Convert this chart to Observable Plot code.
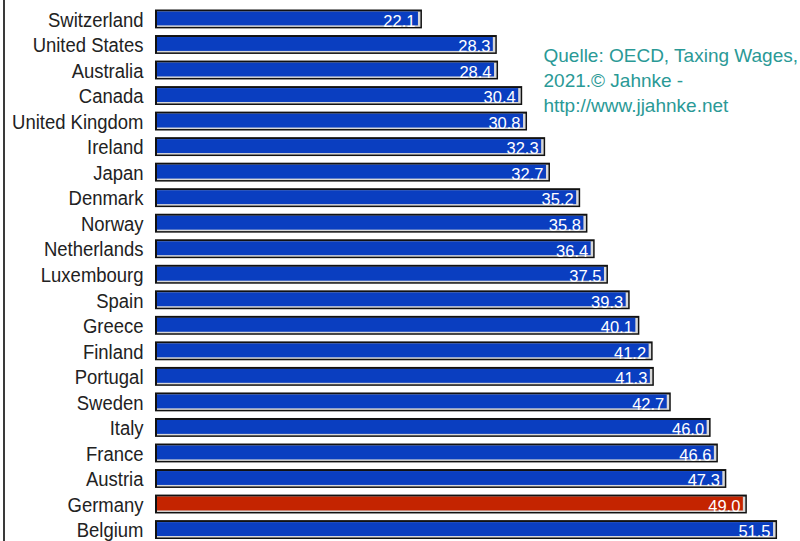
<!DOCTYPE html>
<html>
<head>
<meta charset="utf-8">
<script src="https://cdn.jsdelivr.net/npm/d3@7"></script>
<script src="https://cdn.jsdelivr.net/npm/@observablehq/plot@0.6"></script>
<style>
  html, body { margin: 0; padding: 0; background: #fff; }
  #wrap { position: relative; width: 800px; height: 541px; overflow: hidden; }
  #edge { position: absolute; left: 3px; top: 0; width: 2px; height: 541px; background: #3a3a3a; }
</style>
</head>
<body>
<div id="wrap"><div id="edge"></div></div>
<script>
const countries = ["Switzerland","United States","Australia","Canada","United Kingdom","Ireland","Japan","Denmark","Norway","Netherlands","Luxembourg","Spain","Greece","Finland","Portugal","Sweden","Italy","France","Austria","Germany","Belgium"];
const values = [22.1,28.3,28.4,30.4,30.8,32.3,32.7,35.2,35.8,36.4,37.5,39.3,40.1,41.2,41.3,42.7,46.0,46.6,47.3,49.0,51.5];
const highlight = ["Germany"];
const sourceLines = ["Quelle: OECD, Taxing Wages,", "2021.© Jahnke -", "http://www.jjahnke.net"];

const data = countries.map((c, i) => ({country: c, value: values[i], hi: highlight.includes(c)}));
const font = "'Liberation Sans', Arial, sans-serif";

const chart = Plot.plot({
  width: 800,
  height: 541,
  marginLeft: 155,
  marginRight: 0,
  marginTop: 9.5,
  marginBottom: 2,
  style: {fontFamily: font, background: "transparent"},
  x: {domain: [0, 53.4], axis: null},
  y: {domain: countries, paddingInner: 0.26, paddingOuter: 0, round: false, label: null},
  marks: [
    Plot.axisY({tickSize: 0, tickPadding: 12, fontSize: 21, dy: 0.5, color: "#222", label: null}),
    Plot.barX(data, {x: "value", y: "country", fill: "#111"}),
    Plot.barX(data, {x: "value", y: "country", fill: "#d8d8d8", insetTop: 2, insetLeft: 2, insetBottom: 1.5, insetRight: 1.5}),
    Plot.barX(data, {x: "value", y: "country", fill: d => d.hi ? "#c42400" : "#0a3ec0", insetTop: 2, insetLeft: 2, insetBottom: 3, insetRight: 4}),
    Plot.text(data, {x: "value", y: "country", text: d => d.value.toFixed(1), textAnchor: "end", dx: -7, dy: 2, fill: "#fff", fontSize: 16.5}),
    Plot.text([sourceLines.join("\n")], {frameAnchor: "top-left", dx: 388, dy: 34, textAnchor: "start", lineAnchor: "top", lineHeight: 1.32, fill: "#2a9996", fontSize: 19})
  ]
});
document.getElementById("wrap").appendChild(chart);

// narrow the country labels (the original uses a condensed face)
chart.querySelectorAll('g[aria-label="y-axis tick label"] text').forEach(t => {
  const tr = t.getAttribute("transform");
  if (tr) t.setAttribute("transform", tr + " scale(0.88,1)");
  else {
    const x = +t.getAttribute("x") || 0, y = +t.getAttribute("y") || 0;
    t.removeAttribute("x"); t.removeAttribute("y");
    t.setAttribute("transform", `translate(${x},${y}) scale(0.88,1)`);
  }
});
</script>
</body>
</html>
